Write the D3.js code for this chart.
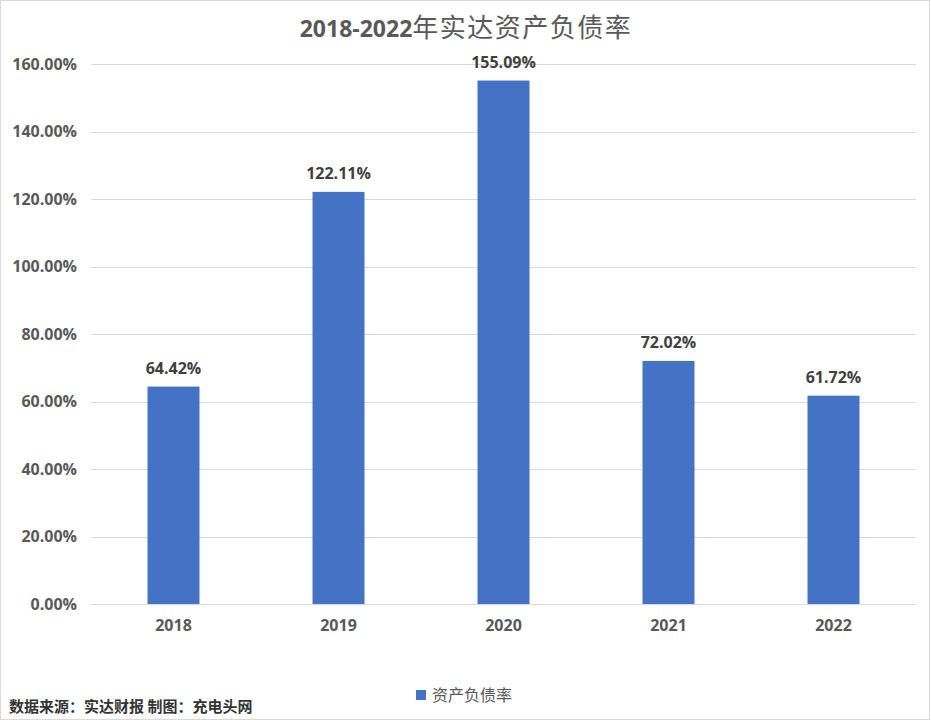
<!DOCTYPE html>
<html>
<head>
<meta charset="utf-8">
<script src="https://cdn.jsdelivr.net/npm/d3@7"></script>
<style>
  body { margin: 0; background: #fff; }
  svg { display: block; }
</style>
</head>
<body>
<svg class="chart" width="931" height="720"></svg>
<script>
const years = ["2018", "2019", "2020", "2021", "2022"];
const debtRatio = [64.42, 122.11, 155.09, 72.02, 61.72];
const yTicks = [0, 20, 40, 60, 80, 100, 120, 140, 160];
const seriesName = "资产负债率";
const titleYears = "2018-2022";
const titleRest = "年实达资产负债率";
const sourceText = "数据来源：实达财报  制图：充电头网";

const width = 931, height = 720;
const margin = { top: 64, right: 15, bottom: 116, left: 91 };
const barColor = "#4472c4";
const font = "'Open Sans', 'Noto Sans CJK SC', sans-serif";
const cjk = "'Noto Sans CJK SC', sans-serif";

const svg = d3.select("svg.chart");

// outer frame
svg.append("rect")
  .attr("x", 0.5).attr("y", 0.5)
  .attr("width", width - 2).attr("height", height - 1)
  .attr("fill", "#fff")
  .attr("stroke", "#d9d9d9");

const x = d3.scaleBand()
  .domain(years)
  .range([margin.left, width - margin.right])
  .paddingInner(0.685)
  .paddingOuter(0.3425);

const y = d3.scaleLinear()
  .domain([0, 160])
  .range([height - margin.bottom, margin.top]);

// gridlines
svg.append("g")
  .selectAll("line")
  .data(yTicks)
  .join("line")
  .attr("x1", margin.left)
  .attr("x2", width - margin.right)
  .attr("y1", (d) => Math.round(y(d)) + 0.5)
  .attr("y2", (d) => Math.round(y(d)) + 0.5)
  .attr("stroke", "#d9d9d9")
  .attr("stroke-width", 1);

// y axis labels
const yAxis = d3.axisLeft(y)
  .tickValues(yTicks)
  .tickSize(0)
  .tickPadding(14)
  .tickFormat((d) => d.toFixed(2) + "%");

svg.append("g")
  .attr("transform", `translate(${margin.left},0)`)
  .call(yAxis)
  .call((g) => g.select(".domain").remove())
  .selectAll("text")
  .attr("font-family", font)
  .attr("font-size", 16)
  .attr("font-weight", "bold")
  .attr("fill", "#595959");

// x axis labels
const xAxis = d3.axisBottom(x).tickSize(0).tickPadding(16);
svg.append("g")
  .attr("transform", `translate(0,${height - margin.bottom})`)
  .call(xAxis)
  .call((g) => g.select(".domain").remove())
  .selectAll("text")
  .attr("font-family", font)
  .attr("font-size", 16)
  .attr("font-weight", "bold")
  .attr("fill", "#595959");

// bars
svg.append("g")
  .selectAll("rect")
  .data(debtRatio)
  .join("rect")
  .attr("x", (d, i) => x(years[i]))
  .attr("y", (d) => y(d))
  .attr("width", x.bandwidth())
  .attr("height", (d) => y(0) - y(d))
  .attr("fill", barColor);

// value labels
svg.append("g")
  .selectAll("text")
  .data(debtRatio)
  .join("text")
  .attr("x", (d, i) => x(years[i]) + x.bandwidth() / 2)
  .attr("y", (d) => y(d) - 13)
  .attr("text-anchor", "middle")
  .attr("font-family", font)
  .attr("font-size", 16)
  .attr("font-weight", "bold")
  .attr("fill", "#404040")
  .text((d) => d.toFixed(2) + "%");

// title: bold years, lighter CJK part
const title = svg.append("text")
  .attr("x", 466)
  .attr("y", 37)
  .attr("text-anchor", "middle")
  .attr("fill", "#595959");
title.append("tspan")
  .attr("font-family", font)
  .attr("font-size", 23)
  .attr("font-weight", "bold")
  .text(titleYears);
title.append("tspan")
  .attr("font-family", cjk)
  .attr("font-size", 26)
  .attr("letter-spacing", 1.5)
  .text(titleRest);

// legend
const legend = svg.append("g").attr("transform", "translate(416,690)");
legend.append("rect")
  .attr("width", 10).attr("height", 10)
  .attr("fill", barColor);
legend.append("text")
  .attr("x", 16).attr("y", 11)
  .attr("font-family", cjk)
  .attr("font-size", 16)
  .attr("fill", "#595959")
  .text(seriesName);

// source note
svg.append("text")
  .attr("x", 9)
  .attr("y", 712)
  .attr("font-family", cjk)
  .attr("font-size", 15)
  .attr("font-weight", "bold")
  .attr("fill", "#333")
  .text(sourceText);
</script>
</body>
</html>
